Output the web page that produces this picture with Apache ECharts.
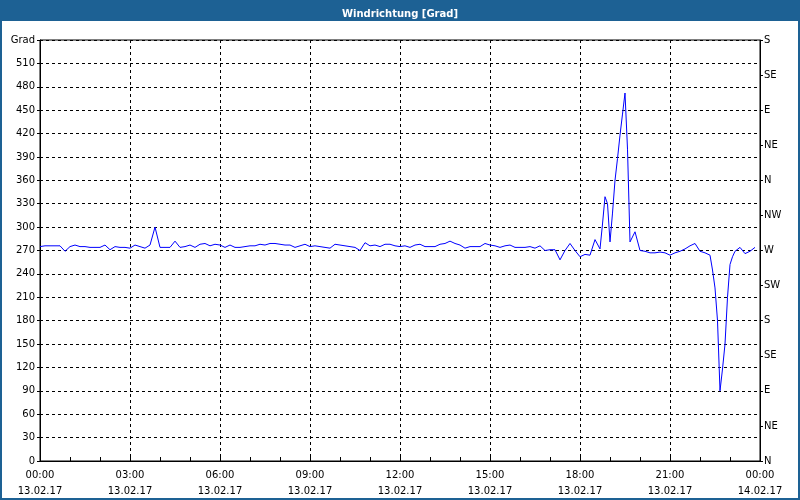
<!DOCTYPE html>
<html>
<head>
<meta charset="utf-8">
<script src="https://cdn.jsdelivr.net/npm/echarts@6/dist/echarts.min.js"></script>
<style>
  html, body { margin: 0; padding: 0; background: #fff; }
  #chart { width: 800px; height: 500px; }
</style>
</head>
<body>
<div id="chart"></div>
<script>
// measurement times (HH:MM, 13.02.17) and wind direction in degrees
const times = [
  "00:00","00:10","00:20","00:30","00:40","00:50","01:00","01:10","01:20","01:30","01:40","01:50",
  "02:00","02:10","02:20","02:30","02:40","02:50","03:00","03:10","03:20","03:30","03:40","03:50",
  "04:00","04:10","04:20","04:30","04:40","04:50","05:00","05:10","05:20","05:30","05:40","05:50",
  "06:00","06:10","06:20","06:30","06:40","06:50","07:00","07:10","07:20","07:30","07:40","07:50",
  "08:00","08:10","08:20","08:30","08:40","08:50","09:00","09:10","09:20","09:30","09:40","09:50",
  "10:00","10:10","10:20","10:30","10:40","10:50","11:00","11:10","11:20","11:30","11:40","11:50",
  "12:00","12:10","12:20","12:30","12:40","12:50","13:00","13:10","13:20","13:30","13:40","13:50",
  "14:00","14:10","14:20","14:30","14:40","14:50","15:00","15:10","15:20","15:30","15:40","15:50",
  "16:00","16:10","16:20","16:30","16:40","16:50","17:00","17:10","17:20","17:30","17:40","17:50",
  "18:00","18:10","18:20","18:30","18:40","18:45","18:50","18:55","19:00","19:05","19:10","19:15",
  "19:20","19:25","19:30","19:35","19:40","19:50","20:00","20:10","20:20","20:30","20:40","20:50",
  "21:00","21:10","21:20","21:30","21:40","21:50","22:00","22:10","22:20","22:25","22:30","22:35",
  "22:40","22:45","22:50","22:55","23:00","23:05","23:10","23:20","23:30","23:40","23:50"
];
const directions = [
  275,276,276,276,276,269,275,277,275,275,274,274,
  274,277,271,275,274,274,273,277,275,273,277,300,
  274,274,274,282,274,275,277,274,278,279,276,278,
  277,274,277,274,274,275,276,276,278,277,279,279,
  278,277,277,274,276,278,275,276,275,274,273,278,
  277,276,275,274,270,280,276,277,275,278,278,276,
  275,276,274,277,278,275,275,275,278,279,282,279,
  277,273,275,275,275,279,277,276,274,276,277,274,
  274,274,275,273,276,270,271,271,258,270,279,270,
  262,265,264,284,272,304,339,330,281,318,360,388,
  418,445,472,400,281,294,270,269,267,267,268,267,
  264,267,269,272,276,279,269,267,264,245,222,180,
  90,118,150,210,252,262,269,274,266,269,274
];

const xTickDates = ["13.02.17","13.02.17","13.02.17","13.02.17","13.02.17","13.02.17","13.02.17","13.02.17","14.02.17"];
const compassLabels = ["N","NE","E","SE","S","SW","W","NW","N","NE","E","SE","S"];

function toMinutes(t) {
  const p = t.split(":");
  return Number(p[0]) * 60 + Number(p[1]);
}

const seriesData = times.map((t, i) => [toMinutes(t), directions[i]]);

const chart = echarts.init(document.getElementById("chart"));
const font = "DejaVu Sans";
const option = {
  animation: false,
  backgroundColor: "#ffffff",
  title: {
    text: "Windrichtung [Grad]",
    left: "center",
    top: 4,
    textStyle: { color: "#ffffff", fontSize: 10, fontWeight: "bold", fontFamily: font }
  },
  graphic: [
    { type: "rect", z: 0, shape: { x: 0, y: 0, width: 800, height: 21 }, style: { fill: "#1d6194" } },
    { type: "rect", z: 0, shape: { x: 1, y: 1, width: 798, height: 498 }, style: { fill: "none", stroke: "#1d6194", lineWidth: 2 } }
  ],
  grid: {
    left: 40, right: 40, top: 40, bottom: 39,
    show: true, borderColor: "#000", borderWidth: 1
  },
  xAxis: {
    type: "value",
    min: 0, max: 1440, interval: 180,
    axisLine: { lineStyle: { color: "#000", width: 1 } },
    axisTick: { show: true, inside: true, length: 4, lineStyle: { color: "#000" } },
    minorTick: { show: true, splitNumber: 3, length: 4, lineStyle: { color: "#000" } },
    splitLine: { show: true, lineStyle: { color: "#000", type: [3, 3], width: 1 } },
    axisLabel: {
      color: "#000", fontSize: 10, fontFamily: font, margin: 6, lineHeight: 16,
      formatter: function (v) {
        const h = Math.floor(v / 60) % 24;
        const hh = (h < 10 ? "0" : "") + h + ":00";
        return hh + "\n" + xTickDates[Math.round(v / 180)];
      }
    }
  },
  yAxis: [
    {
      type: "value",
      min: 0, max: 540, interval: 30,
      axisLine: { show: true, lineStyle: { color: "#000" } },
      axisTick: { show: true, length: 3, lineStyle: { color: "#000" } },
      splitLine: { show: true, lineStyle: { color: "#000", type: [3, 3], width: 1 } },
      axisLabel: {
        color: "#000", fontSize: 10, fontFamily: font, margin: 5,
        formatter: function (v) { return v === 540 ? "Grad" : String(v); }
      }
    },
    {
      type: "value",
      position: "right",
      min: 0, max: 540, interval: 45,
      axisLine: { show: true, lineStyle: { color: "#000" } },
      axisTick: { show: true, length: 3, lineStyle: { color: "#000" } },
      splitLine: { show: false },
      axisLabel: {
        color: "#000", fontSize: 10, fontFamily: font, margin: 4,
        formatter: function (v) { return compassLabels[Math.round(v / 45)]; }
      }
    }
  ],
  series: [
    {
      name: "Windrichtung",
      type: "line",
      yAxisIndex: 0,
      data: seriesData,
      showSymbol: false,
      symbol: "none",
      lineStyle: { color: "#0000ff", width: 1 },
      itemStyle: { color: "#0000ff" }
    }
  ]
};
chart.setOption(option);
</script>
</body>
</html>
